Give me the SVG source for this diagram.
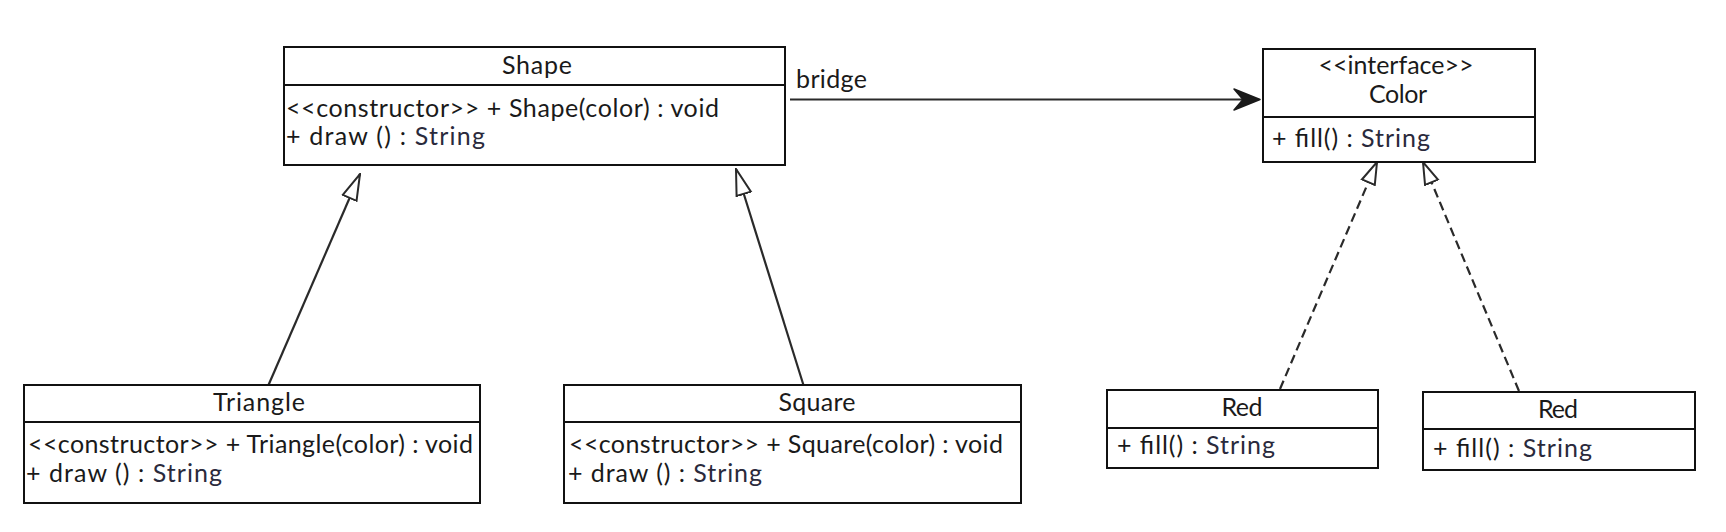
<svg xmlns="http://www.w3.org/2000/svg" width="1726" height="532" viewBox="0 0 1726 532">
<style>
.box{fill:#ffffff;stroke:#111111;stroke-width:2}
.div{stroke:#111111;stroke-width:2}
.t{font-family:Lato,"Open Sans","DejaVu Sans",sans-serif;font-size:25px;fill:#1a1a1a}
.c{text-anchor:middle}
.s{fill:#2a2a3c}
.edge{stroke:#2a2a2a;stroke-width:2.2;fill:none}
.dash{stroke-dasharray:9 5}
</style>
<defs>
<marker id="gen" markerUnits="userSpaceOnUse" viewBox="0 0 28 20" refX="27" refY="10" markerWidth="28" markerHeight="20" orient="auto">
<path d="M1,2.5 L27,10 L1,17.5 Z" fill="#ffffff" stroke="#2a2a2a" stroke-width="2" stroke-dasharray="none"/>
</marker>
<marker id="real" markerUnits="userSpaceOnUse" viewBox="0 0 24 18" refX="23" refY="9" markerWidth="24" markerHeight="18" orient="auto">
<path d="M1,2 L23,9 L1,16 Z" fill="#ffffff" stroke="#2a2a2a" stroke-width="2" stroke-dasharray="none"/>
</marker>
</defs>
<rect width="1726" height="532" fill="#ffffff"/>

<g id="connectors">
<g id="bridge">
<line class="edge" x1="790" y1="99.5" x2="1250" y2="99.5"/>
<path d="M1260,99.5 L1234,89 L1243,99.5 L1234,110 Z" fill="#1a1a1a" stroke="#1a1a1a" stroke-width="1.5" stroke-linejoin="round"/>
<text class="t" x="796" y="88" textLength="71" lengthAdjust="spacing">bridge</text>
</g>
<line id="triangle-shape" class="edge" x1="262" y1="400" x2="360" y2="174" marker-end="url(#gen)"/>
<line id="square-shape" class="edge" x1="810" y1="406" x2="736" y2="169" marker-end="url(#gen)"/>
<line id="red1-color" class="edge dash" x1="1280" y1="389" x2="1377" y2="162" marker-end="url(#real)"/>
<line id="red2-color" class="edge dash" x1="1519" y1="391" x2="1423" y2="162" marker-end="url(#real)"/>
</g>

<g id="shape">
<rect class="box" x="284" y="47" width="501" height="118"/>
<line class="div" x1="284" y1="85" x2="785" y2="85"/>
<text class="t c" x="537" y="74" textLength="70" lengthAdjust="spacing">Shape</text>
<text class="t" x="286" y="117" textLength="433" lengthAdjust="spacing">&lt;&lt;constructor&gt;&gt; + Shape(color) : void</text>
<text class="t" x="286" y="145" textLength="199" lengthAdjust="spacing">+ draw () : <tspan class="s">String</tspan></text>
</g>

<g id="color">
<rect class="box" x="1263" y="49" width="272" height="113"/>
<line class="div" x1="1263" y1="117" x2="1535" y2="117"/>
<text class="t c" x="1396" y="74" textLength="155" lengthAdjust="spacing">&lt;&lt;interface&gt;&gt;</text>
<text class="t c" x="1398" y="103" textLength="58" lengthAdjust="spacing">Color</text>
<text class="t" x="1272" y="147" textLength="158" lengthAdjust="spacing">+ fill() : <tspan class="s">String</tspan></text>
</g>

<g id="triangle">
<rect class="box" x="24" y="385" width="456" height="118"/>
<line class="div" x1="24" y1="422" x2="480" y2="422"/>
<text class="t c" x="259" y="411" textLength="92" lengthAdjust="spacing">Triangle</text>
<text class="t" x="28" y="453" textLength="445" lengthAdjust="spacing">&lt;&lt;constructor&gt;&gt; + Triangle(color) : void</text>
<text class="t" x="26" y="482" textLength="196" lengthAdjust="spacing">+ draw () : <tspan class="s">String</tspan></text>
</g>

<g id="square">
<rect class="box" x="564" y="385" width="457" height="118"/>
<line class="div" x1="564" y1="422" x2="1021" y2="422"/>
<text class="t c" x="817" y="411" textLength="77" lengthAdjust="spacing">Square</text>
<text class="t" x="569" y="453" textLength="434" lengthAdjust="spacing">&lt;&lt;constructor&gt;&gt; + Square(color) : void</text>
<text class="t" x="568" y="482" textLength="194" lengthAdjust="spacing">+ draw () : <tspan class="s">String</tspan></text>
</g>

<g id="red1">
<rect class="box" x="1107" y="390" width="271" height="78"/>
<line class="div" x1="1107" y1="428" x2="1378" y2="428"/>
<text class="t c" x="1242" y="416" textLength="41" lengthAdjust="spacing">Red</text>
<text class="t" x="1117" y="454" textLength="158" lengthAdjust="spacing">+ fill() : <tspan class="s">String</tspan></text>
</g>

<g id="red2">
<rect class="box" x="1423" y="392" width="272" height="78"/>
<line class="div" x1="1423" y1="429" x2="1695" y2="429"/>
<text class="t c" x="1558" y="418" textLength="40" lengthAdjust="spacing">Red</text>
<text class="t" x="1433" y="457" textLength="159" lengthAdjust="spacing">+ fill() : <tspan class="s">String</tspan></text>
</g>
</svg>
